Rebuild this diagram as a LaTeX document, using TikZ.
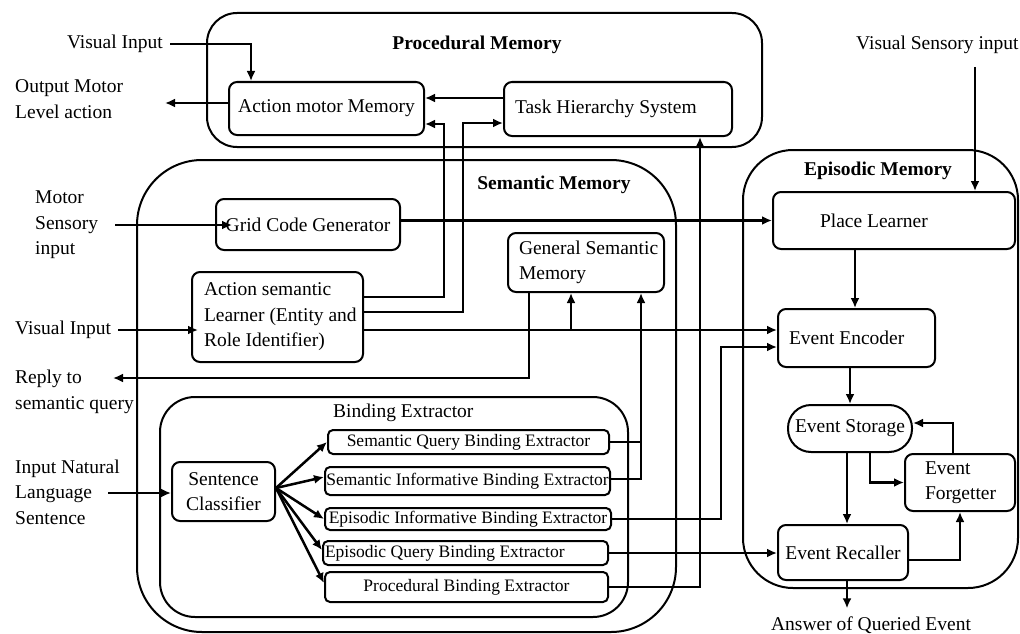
\documentclass[tikz,border=0pt]{standalone}
\usepackage{fontspec}
\setmainfont{Liberation Serif}
\usetikzlibrary{arrows.meta,calc}
\tikzset{
  cont/.style={draw, line width=2pt, inner sep=0pt},
  box/.style={draw, line width=2pt, rounded corners=8pt, inner sep=0pt, align=center,
    font=\fontsize{19.5}{25.5}\selectfont},
  lbox/.style={box, align=flush left},
  xbox/.style={box, rounded corners=5pt, font=\fontsize{17.5}{20}\selectfont},
  lbl/.style={inner sep=0pt, align=left, font=\fontsize{19.5}{25.5}\selectfont},
  ttl/.style={inner sep=0pt, font=\fontsize{19.5}{25.5}\selectfont\bfseries},
  arr/.style={line width=2.5pt, -{Latex[length=10pt,width=9pt]}},
  ln/.style={line width=2.5pt}
}
\begin{document}
\begin{tikzpicture}[x=1pt,y=-1pt]
\useasboundingbox (0,0) rectangle (1020,634);
% containers
\node[cont, rounded corners=30pt, minimum width=555pt, minimum height=134pt] (proc) at (484.5,80) {};
\node[cont, rounded corners=65pt, minimum width=539pt, minimum height=472pt] (sem) at (406.5,396) {};
\node[cont, rounded corners=35pt, minimum width=468pt, minimum height=220pt] (bind) at (394,507) {};
\node[cont, rounded corners=50pt, minimum width=275pt, minimum height=438pt] (epi) at (880.5,369) {};
% titles
\node[ttl] (tp) at (477,45) {Procedural Memory};
\node[ttl] (ts) at (554,185) {Semantic Memory};
\node[ttl] (te) at (878,171) {Episodic Memory};
\node[lbl, anchor=west] (tb) at (333,413) {Binding Extractor};
% boxes
\node[box, minimum width=195pt, minimum height=53pt] (amm) at (326.5,108.5) {Action motor Memory};
\node[lbox, inner xsep=11pt, text width=206pt, minimum height=54pt] (ths) at (618,109) {\mbox{Task Hierarchy System}\\[-6pt]};
\node[box, minimum width=184pt, minimum height=51pt] (gcg) at (308,224.5) {Grid Code Generator};
\node[lbox, inner xsep=12pt, text width=147pt, minimum height=90pt] (asl) at (277.5,317) {\mbox{Action semantic}\\\mbox{Learner (Entity and}\\\mbox{Role Identifier)}};
\node[lbox, inner xsep=11pt, text width=134pt, minimum height=59pt] (gsm) at (586,262.5) {\mbox{General Semantic}\\Memory};
\node[box, minimum width=103pt, minimum height=59pt] (sc) at (223.5,491.5) {Sentence\\Classifier};
\node[xbox, minimum width=281pt, minimum height=24pt] (sq) at (468.5,442) {Semantic Query Binding Extractor};
\node[xbox, minimum width=285pt, minimum height=28pt] (si) at (467.5,481) {Semantic Informative Binding Extractor};
\node[xbox, minimum width=286pt, minimum height=22pt] (ei) at (468,519) {Episodic Informative Binding Extractor};
\node[xbox, align=flush left, inner xsep=2pt, text width=281pt, minimum height=24pt] (eq) at (465.5,553) {\mbox{Episodic Query Binding Extractor}};
\node[xbox, minimum width=283pt, minimum height=30pt] (pb) at (466.5,587) {Procedural Binding Extractor};
\node[lbox, inner xsep=47pt, text width=148pt, minimum height=57pt] (pl) at (894,220.5) {\mbox{Place Learner}};
\node[lbox, inner xsep=11pt, text width=135pt, minimum height=58pt] (ee) at (856.5,338) {\mbox{Event Encoder}};
\node[box, rounded corners=23pt, minimum width=124pt, minimum height=47pt] (es) at (850,428.5) {Event Storage};
\node[lbox, inner xsep=20pt, text width=70pt, minimum height=57pt] (ef) at (960,482.5) {Event\\Forgetter};
\node[box, minimum width=130pt, minimum height=55pt] (er) at (843,552.5) {Event Recaller};
% outer labels
\node[lbl, anchor=east] (vi1) at (163,44) {Visual Input};
\node[lbl, anchor=west] (oml) at (15,99) {Output Motor\\Level action};
\node[lbl, anchor=west] (msi) at (35,225) {Motor\\Sensory\\input};
\node[lbl, anchor=west] (vi2) at (15,330) {Visual Input};
\node[lbl, anchor=west] (rq) at (15,392) {Reply to\\semantic query};
\node[lbl, anchor=west] (inl) at (15,492) {Input Natural\\Language\\Sentence};
\node[lbl, anchor=west] (vsi) at (856,45) {Visual Sensory input};
\node[lbl] (ans) at (871,625) {Answer of Queried Event};
\coordinate (omout) at (165,103);
\coordinate (jg) at (571,330);
\coordinate (rep) at (113,378);
\coordinate (inlo) at (108,493);
\coordinate (vsin) at (975,67);
% connectors
\draw[arr] ([xshift=7pt]vi1.east) -| ([xshift=-75.5pt]amm.north);
\draw[arr] ([yshift=5.5pt]amm.west) -- (omout);
\draw[arr] ([yshift=11pt]ths.west) -- ([yshift=11pt]ths.west -| amm.east);
\draw[arr] ([yshift=20pt]asl.east) -| ([xshift=19pt,yshift=-15.5pt]amm.east) -- ([yshift=-15.5pt]amm.east);
\draw[arr] ([yshift=5pt]asl.east) -| ([xshift=-40pt,yshift=-14pt]ths.west) -- ([yshift=-14pt]ths.west);
\draw[arr] ([xshift=17pt]msi.east) -- ([xshift=17pt]msi.east -| gcg.west);
\draw[arr] (pl.west -| gcg.east) -- (pl.west);
\draw[arr] ([xshift=7pt]vi2.east) -- ([xshift=7pt]vi2.east -| asl.west);
\draw[arr] ([yshift=-13pt]asl.east) -- ([yshift=-13pt]asl.east -| ee.west);
\draw[arr] (jg) -- (jg |- gsm.south);
\draw[arr] ([xshift=-57pt]gsm.south) |- (rep);
\draw[arr] (inlo) -- (inlo -| sc.west);
\draw[arr] ([yshift=3.5pt]sc.east) -- (sq.west);
\draw[arr] ([yshift=3.5pt]sc.east) -- ([yshift=4pt]si.west);
\draw[arr] ([yshift=3.5pt]sc.east) -- (ei.west);
\draw[arr] ([yshift=3.5pt]sc.east) -- ([yshift=3pt]eq.west);
\draw[arr] ([yshift=3.5pt]sc.east) -- ([yshift=4pt]pb.west);
\draw[arr] ([yshift=2pt]si.east) -| ([xshift=55pt]gsm.south);
\draw[ln] (sq.east) -- ++(32,0);
\draw[arr] (ei.east) -| ([xshift=-56pt,yshift=-9pt]ee.west) -- ([yshift=-9pt]ee.west);
\draw[arr] (eq.east) -- (eq.east -| er.west);
\draw[arr] (pb.east) -| ([xshift=82pt]ths.south);
\draw[arr] (vsin) -- (vsin |- pl.north);
\draw[arr] ([xshift=-39pt]pl.south) -- ([xshift=-39pt]pl.south |- ee.north);
\draw[arr] ([xshift=-6.5pt]ee.south) -- ([xshift=-6.5pt]ee.south |- es.north);
\draw[arr] ([xshift=-3pt]es.south) -- ([xshift=-3pt]es.south |- er.north);
\draw[arr] ([xshift=20pt]es.south) |- (ef.west);
\draw[arr] ([xshift=-7pt]ef.north) |- ([yshift=5.5pt]es.east);
\draw[arr] ([yshift=-7.5pt]er.east) -| (ef.south);
\draw[arr] ([xshift=4pt]er.south) -- ([xshift=4pt,yshift=8pt]er.south |- ans.north);
\end{tikzpicture}
\end{document}
